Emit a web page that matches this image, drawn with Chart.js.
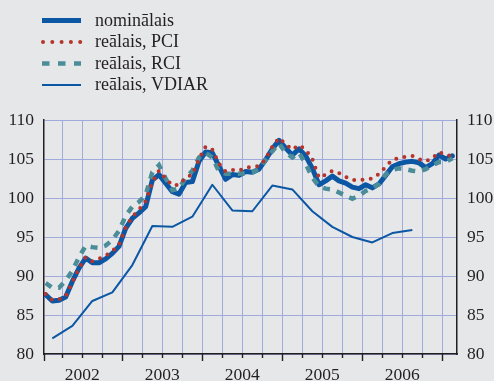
<!DOCTYPE html>
<html>
<head>
<meta charset="utf-8">
<script src="https://cdn.jsdelivr.net/npm/chart.js@4/dist/chart.umd.min.js"></script>
<style>
  html, body { margin: 0; padding: 0; background: #e6e7e9; }
  #wrap { width: 494px; height: 381px; }
</style>
</head>
<body>
<div id="wrap"><canvas id="c" width="494" height="381"></canvas></div>
<script>
// Monthly indices, January 2002 – February 2007
const nominalais = [
  87.6, 86.8, 86.9, 87.3, 89.3, 91.0, 92.3, 91.7, 91.7, 92.2, 92.9, 93.8,
  96.1, 97.4, 98.1, 98.9, 102.3, 103.0, 101.9, 100.8, 100.5, 102.0, 102.1, 104.7,
  105.9, 105.8, 104.1, 102.4, 103.0, 102.9, 103.4, 103.3, 103.7, 104.9, 106.3, 107.4,
  106.4, 105.5, 106.3, 105.4, 103.8, 101.7, 102.2, 102.8, 102.2, 101.9, 101.4, 101.2,
  101.7, 101.3, 101.8, 102.9, 104.0, 104.4, 104.6, 104.7, 104.5, 103.9, 104.4, 105.5,
  105.0, 105.4
];
const realaisPCI = [
  87.7, 86.9, 87.0, 87.4, 89.2, 91.0, 92.4, 91.9, 92.2, 92.6, 93.2, 94.0,
  96.2, 97.6, 98.5, 99.6, 102.0, 103.5, 102.5, 101.6, 101.7, 102.6, 103.0, 105.0,
  106.6, 106.2, 104.4, 103.4, 103.6, 103.5, 103.9, 104.0, 104.1, 105.0, 106.6, 107.7,
  106.9, 106.2, 106.8, 106.2, 105.0, 102.6, 103.0, 103.5, 103.2, 102.7, 102.3, 102.3,
  102.4, 102.5, 103.1, 104.0, 104.9, 105.1, 105.3, 105.4, 105.0, 104.7, 105.1, 105.9,
  105.5, 105.4
];
const realaisRCI = [
  89.1, 88.5, 88.5, 89.4, 90.7, 92.4, 93.9, 93.7, 93.6, 93.9, 94.6, 95.8,
  97.7, 98.9, 99.5, 100.4, 103.3, 104.2, 102.5, 101.0, 101.2, 102.6, 103.5, 105.2,
  105.8, 105.2, 103.4, 103.1, 103.1, 103.1, 103.2, 103.3, 103.7, 104.9, 106.0, 107.0,
  105.8, 105.2, 105.8, 104.4, 102.6, 101.5, 101.2, 101.1, 100.7, 100.3, 99.9, 100.3,
  100.9, 101.3, 101.8, 103.0, 103.6, 103.8, 103.7, 103.5, 103.4, 103.7, 104.2, 104.6,
  104.6, 105.1
];
// Quarterly index, Q1 2002 – Q3 2006
const realaisVDIAR = [
  82.0, 83.6, 86.8, 87.9,
  91.4, 96.4, 96.3, 97.6,
  101.7, 98.4, 98.3, 101.6,
  101.1, 98.3, 96.3, 95.0,
  94.3, 95.5, 95.9
];
const yearLabels = ['2002', '2003', '2004', '2005', '2006'];
const seriesNames = ['nominālais', 'reālais, PCI', 'reālais, RCI', 'reālais, VDIAR'];
const yTicks = [80, 85, 90, 95, 100, 105, 110];

// x is measured in months from the start of 2002; monthly values sit mid-month,
// quarterly values mid-quarter
const monthly = arr => arr.map((v, i) => ({ x: i + 0.5, y: v }));
const quarterly = arr => arr.map((v, i) => ({ x: i * 3 + 1.5, y: v }));

const BLUE = '#0b57a4';
const RED = '#b5352c';
const TEAL = '#4b8c99';
const GRID = '#a1aadc';
const INK = '#231f20';
const FONT = 'Liberation Serif, Times New Roman, serif';

// Quarter boundaries for grid lines and tick marks
const quarterTicks = [];
for (let m = 3; m <= 60; m += 3) quarterTicks.push({ value: m });

const legendPlugin = {
  id: 'stackedLegend',
  afterDraw(chart) {
    const ctx = chart.ctx;
    const order = [0, 1, 2, 3];
    ctx.save();
    order.forEach((di, row) => {
      const ds = chart.data.datasets[di];
      const y = 20.5 + row * 21.5;
      ctx.beginPath();
      ctx.strokeStyle = ds.borderColor;
      ctx.lineWidth = ds.borderWidth;
      ctx.lineCap = ds.legendCap || 'butt';
      ctx.setLineDash(ds.legendDash || []);
      ctx.moveTo(di === 1 ? 43 : 42, y);
      ctx.lineTo(81, y);
      ctx.stroke();
      ctx.setLineDash([]);
      ctx.fillStyle = INK;
      ctx.font = '18px ' + FONT;
      ctx.textBaseline = 'alphabetic';
      ctx.textAlign = 'left';
      ctx.fillText(ds.label, 95, y + 5);
    });
    ctx.restore();
  }
};

const tickMarkPlugin = {
  id: 'quarterTickMarks',
  afterDraw(chart) {
    const xs = chart.scales.x;
    const ctx = chart.ctx;
    const bottom = chart.chartArea.bottom;
    ctx.save();
    ctx.strokeStyle = INK;
    ctx.lineWidth = 1.4;
    for (let m = 0; m <= 60; m += 3) {
      let px = xs.getPixelForValue(m);
      if (px < chart.chartArea.left) px = chart.chartArea.left;
      const major = m % 12 === 0;
      ctx.beginPath();
      ctx.moveTo(Math.round(px) + 0.5, bottom);
      ctx.lineTo(Math.round(px) + 0.5, bottom + (major ? 7 : 4));
      ctx.stroke();
    }
    ctx.restore();
  }
};

new Chart(document.getElementById('c'), {
  type: 'line',
  data: {
    datasets: [
      {
        label: seriesNames[0], data: monthly(nominalais), order: 2,
        borderColor: BLUE, borderWidth: 5, pointRadius: 0, tension: 0,
        borderJoinStyle: 'round', borderCapStyle: 'round'
      },
      {
        label: seriesNames[1], data: monthly(realaisPCI), order: 0,
        borderColor: RED, borderWidth: 4, pointRadius: 0, tension: 0,
        borderDash: [0, 8.3], borderCapStyle: 'round', borderJoinStyle: 'round',
        legendDash: [0, 9.3], legendCap: 'round'
      },
      {
        label: seriesNames[2], data: monthly(realaisRCI), order: 1,
        borderColor: TEAL, borderWidth: 4.5, pointRadius: 0, tension: 0,
        borderDash: [7, 7], borderCapStyle: 'butt',
        legendDash: [7.5, 8.5]
      },
      {
        label: seriesNames[3], data: quarterly(realaisVDIAR), order: 3,
        borderColor: BLUE, borderWidth: 2, pointRadius: 0, tension: 0,
        borderJoinStyle: 'round'
      }
    ]
  },
  options: {
    responsive: false,
    animation: false,
    devicePixelRatio: 1,
    layout: { padding: { top: 120, left: 0, right: 0, bottom: 0 } },
    plugins: { legend: { display: false }, tooltip: { enabled: false } },
    scales: {
      x: {
        type: 'linear', min: 0.25, max: 62.2,
        afterBuildTicks: s => { s.ticks = quarterTicks.map(t => ({ value: t.value })); },
        afterFit: s => { s.height = 27; },
        grid: { color: GRID, lineWidth: 1, drawTicks: false },
        border: { display: true, color: INK, width: 1.5 },
        ticks: {
          autoSkip: false, maxRotation: 0, padding: 11,
          color: INK, font: { family: FONT, size: 17.5 },
          callback: v => ((v - 6) % 12 === 0 ? yearLabels[(v - 6) / 12] : '')
        }
      },
      y: {
        position: 'left', min: 80, max: 110,
        afterBuildTicks: s => { s.ticks = yTicks.map(v => ({ value: v })); },
        afterFit: s => { s.width = 44; },
        grid: { color: GRID, lineWidth: 1, drawTicks: false },
        border: { display: true, color: INK, width: 1.5 },
        ticks: { padding: 10, color: INK, font: { family: FONT, size: 17.5 } }
      },
      y2: {
        position: 'right', min: 80, max: 110,
        afterBuildTicks: s => { s.ticks = yTicks.map(v => ({ value: v })); },
        afterFit: s => { s.width = 37; },
        grid: { display: false, drawTicks: false },
        border: { display: true, color: INK, width: 1.5 },
        ticks: { padding: 10, color: INK, font: { family: FONT, size: 17.5 } }
      }
    }
  },
  plugins: [legendPlugin, tickMarkPlugin]
});
</script>
</body>
</html>
